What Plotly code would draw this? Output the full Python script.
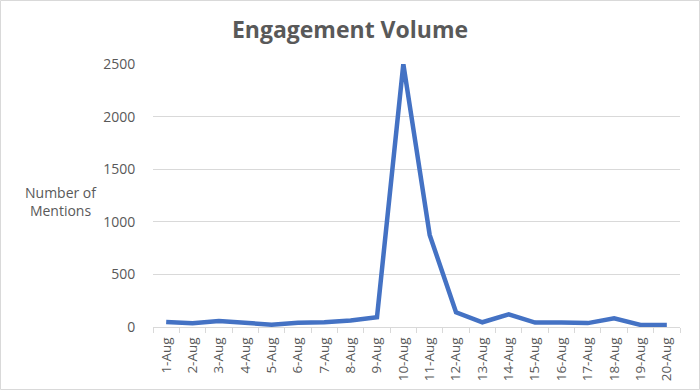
import plotly.graph_objects as go

dates = ["1-Aug", "2-Aug", "3-Aug", "4-Aug", "5-Aug", "6-Aug", "7-Aug", "8-Aug", "9-Aug", "10-Aug",
         "11-Aug", "12-Aug", "13-Aug", "14-Aug", "15-Aug", "16-Aug", "17-Aug", "18-Aug", "19-Aug", "20-Aug"]
mentions = [48, 35, 57, 38, 22, 40, 45, 62, 92, 2500,
            875, 140, 45, 120, 42, 42, 37, 82, 20, 20]
y_ticks = [0, 500, 1000, 1500, 2000, 2500]

W, H = 700, 390
L, R, T, B = 153, 20, 64, 63
pw, ph = W - L - R, H - T - B

fig = go.Figure()
fig.add_trace(go.Scatter(x=dates, y=mentions, mode="lines",
                         line=dict(color="#4472C4", width=4.5), hoverinfo="x+y"))

grey = "#595959"
fig.update_layout(
    width=W, height=H,
    margin=dict(l=L, r=R, t=T, b=B, autoexpand=False),
    paper_bgcolor="white", plot_bgcolor="white",
    showlegend=False,
    font=dict(family="Open Sans, Noto Sans, sans-serif", color=grey, size=13),
    title=dict(text="<b>Engagement Volume</b>", x=0.5, xanchor="center", y=1 - 30 / H, yanchor="middle",
               font=dict(size=23, color=grey, family="Open Sans, Noto Sans, sans-serif")),
    xaxis=dict(type="category", range=[-0.5, len(dates) - 0.5], tickangle=-90, showgrid=False,
               showline=True, linecolor="#d9d9d9", linewidth=1, ticks="outside",
               tickson="boundaries", ticklen=5, tickcolor="#d9d9d9",
               tickfont=dict(size=13.5, color=grey), ticklabelstandoff=4, automargin=False),
    yaxis=dict(range=[0, 2500], tickvals=y_ticks, showgrid=True, gridcolor="#d9d9d9",
               gridwidth=1, zeroline=False, showline=False, ticks="outside",
               tickcolor="rgba(0,0,0,0)", ticklen=14, tickfont=dict(size=14, color=grey),
               automargin=False),
    annotations=[dict(text="Number of<br>Mentions", xref="paper", yref="paper",
                      x=(61 - L) / pw, y=(H - B - 201) / ph, showarrow=False,
                      xanchor="center", yanchor="middle",
                      font=dict(size=14, color=grey))],
    shapes=[dict(type="rect", xref="paper", yref="paper",
                 x0=(0.5 - L) / pw, x1=(W - 0.5 - L) / pw,
                 y0=-(B - 0.5) / ph, y1=1 + (T - 0.5) / ph,
                 line=dict(color="#d9d9d9", width=1), layer="below")],
)

fig.write_html("out.html", config={"displayModeBar": False},
               post_script="document.body.style.margin='0';document.body.style.padding='0';")
